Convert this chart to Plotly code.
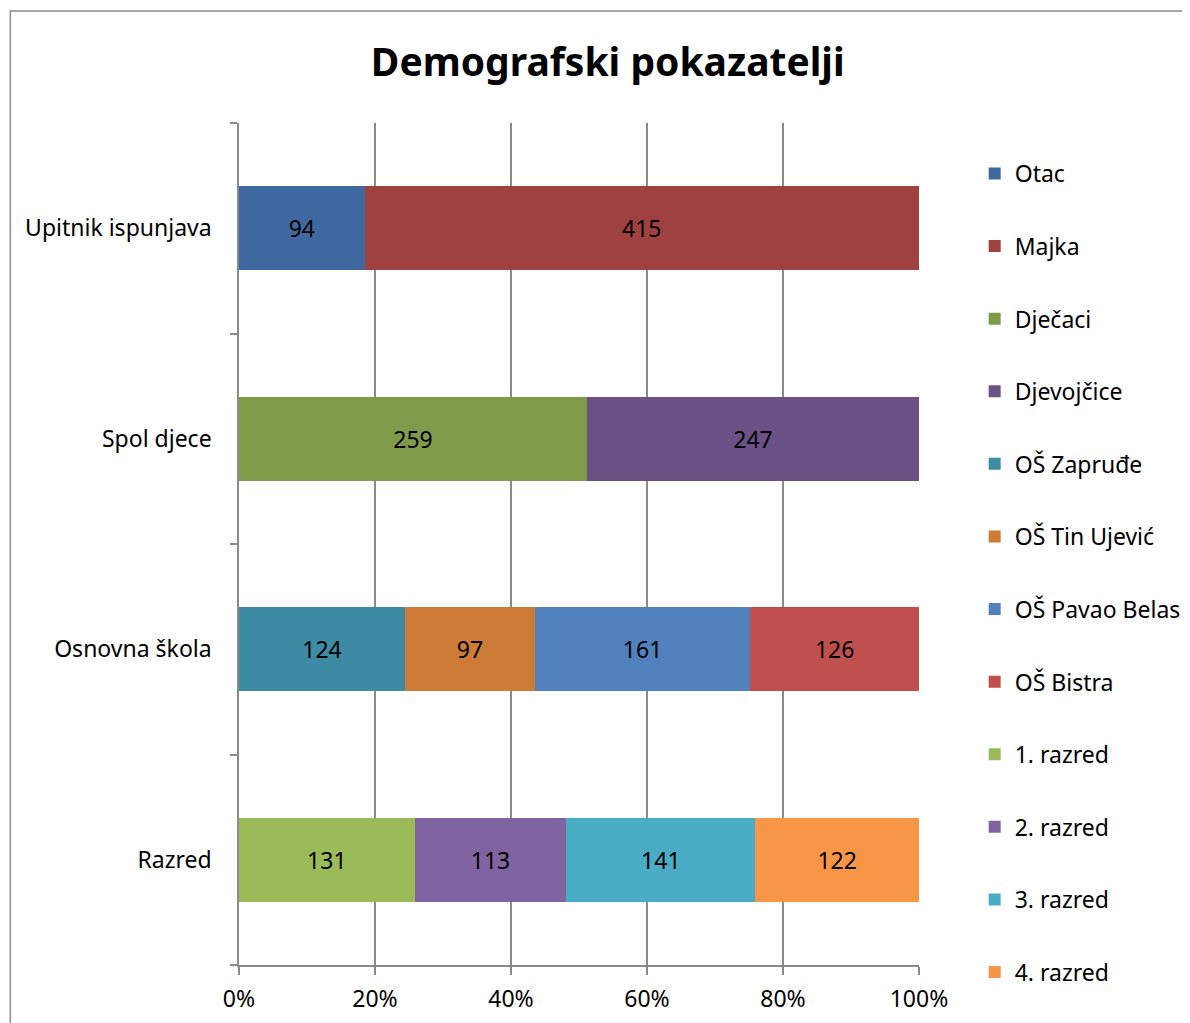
import plotly.graph_objects as go

categories = ["Upitnik ispunjava", "Spol djece", "Osnovna škola", "Razred"]

series_names = ["Otac", "Majka", "Dječaci", "Djevojčice",
                "OŠ Zapruđe", "OŠ Tin Ujević", "OŠ Pavao Belas", "OŠ Bistra",
                "1. razred", "2. razred", "3. razred", "4. razred"]
series_category = ["Upitnik ispunjava", "Upitnik ispunjava", "Spol djece", "Spol djece",
                   "Osnovna škola", "Osnovna škola", "Osnovna škola", "Osnovna škola",
                   "Razred", "Razred", "Razred", "Razred"]
series_values = [94, 415, 259, 247, 124, 97, 161, 126, 131, 113, 141, 122]
series_colors = ["#4068A0", "#9E413F", "#7F9B49", "#6A5186",
                 "#3D8CA3", "#CF7B38", "#5181BD", "#C0504D",
                 "#9BBB59", "#8064A2", "#4BACC6", "#F79646"]

x_ticks = [0, 20, 40, 60, 80, 100]
x_tick_labels = ["0%", "20%", "40%", "60%", "80%", "100%"]

FONT = "Noto Sans"
FS = 23
fig = go.Figure()
for name, cat, val, col in zip(series_names, series_category, series_values, series_colors):
    fig.add_trace(go.Bar(
        y=[cat], x=[val], name=name, orientation="h",
        marker=dict(color=col, line=dict(width=0)),
        text=[val], texttemplate="%{text}", textposition="inside",
        insidetextanchor="middle",
        textfont=dict(family=FONT, size=FS, color="black"),
        legendgroup=name,
    ))

grid = "#8A8A8A"
L, T, PW, PH = 231, 115, 684, 842
fig.update_layout(
    barmode="stack", barnorm="percent", bargap=0.6,
    width=1190, height=1023,
    margin=dict(l=L, r=1190 - L - PW, t=T, b=1023 - T - PH),
    paper_bgcolor="white", plot_bgcolor="white",
    font=dict(family=FONT, size=FS, color="black"),
    title=dict(text="<b>Demografski pokazatelji</b>", x=0.504, xanchor="center",
               y=0.947, yanchor="middle", font=dict(family=FONT, size=39, color="black")),
    xaxis=dict(range=[0, 100], tickvals=x_ticks, ticktext=x_tick_labels,
               showgrid=True, gridcolor=grid, gridwidth=1.5,
               showline=True, linecolor=grid, linewidth=1.5,
               ticks="outside", ticklen=8, tickcolor=grid, tickwidth=1.5,
               zeroline=False, tickfont=dict(family=FONT, size=FS), ticklabelstandoff=5),
    yaxis=dict(type="category", categoryorder="array", categoryarray=categories[::-1],
               tickson="boundaries", ticks="outside", ticklen=7, tickcolor=grid, tickwidth=1.5,
               showline=True, linecolor=grid, linewidth=1.5, showgrid=False,
               tickfont=dict(family=FONT, size=FS), ticklabelstandoff=21),
    legend=dict(x=(971 - L) / PW, xanchor="left", y=(T + PH - 144) / PH, yanchor="top",
                traceorder="grouped", tracegroupgap=39.7,
                font=dict(family=FONT, size=FS)),
    shapes=[dict(type="rect", xref="paper", yref="paper",
                 x0=(1 - L) / PW, x1=(1200 - L) / PW,
                 y0=(T + PH - 1040) / PH, y1=(T + PH - 3) / PH,
                 line=dict(color="#8C8C8C", width=1.5), layer="below")],
)
fig.write_html("out.html")
